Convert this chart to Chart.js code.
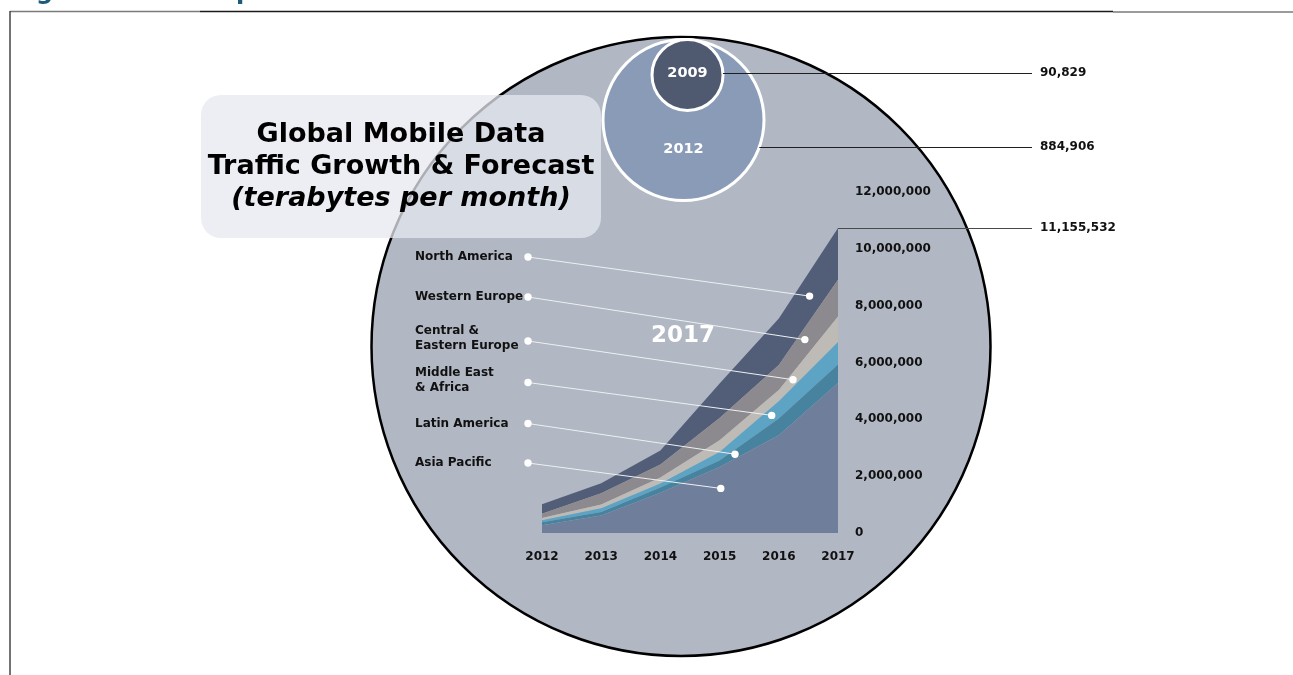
<!DOCTYPE html>
<html>
<head>
<meta charset="utf-8">
<title>Global Mobile Data Traffic Growth &amp; Forecast</title>
<script src="https://cdn.jsdelivr.net/npm/chart.js@4.4.1/dist/chart.umd.min.js"></script>
<style>
  html, body { margin: 0; padding: 0; background: #fff; }
  #wrap { position: relative; width: 1293px; height: 675px; overflow: hidden; }
</style>
</head>
<body>
<div id="wrap"><canvas id="chartTraffic" width="1293" height="675"></canvas></div>
<script>
/* ============================================================
   Global Mobile Data Traffic — stacked areas per region (TB/month)
   ============================================================ */

const years = ['2012', '2013', '2014', '2015', '2016', '2017'];

// stacked bottom -> top (TB per month)
const asiaPacific       = [270000, 620000, 1420000, 2320000, 3440000, 5280000];
const latinAmerica      = [110000, 120000,  180000,  230000,  590000,  650000];
const middleEastAfrica  = [ 70000, 130000,  140000,  300000,  610000,  790000];
const centralEastEurope = [ 80000, 130000,  210000,  410000,  390000,  900000];
const westernEurope     = [150000, 400000,  460000,  790000,  880000, 1290000];
const northAmerica      = [330000, 350000,  490000, 1210000, 1640000, 1820000];

const regionLabels = [
  ['Asia Pacific'],
  ['Latin America'],
  ['Middle East', '& Africa'],
  ['Central &', 'Eastern Europe'],
  ['Western Europe'],
  ['North America']
];
const regionColors = ['#6F7F9B', '#47839F', '#5DA3C3', '#BEBBB6', '#8C8A8F', '#525E77'];

const yTickMax = 12000000;
const yTickStep = 2000000;

// totals shown as bubbles
const totalYears  = ['2009', '2012', '2017'];
const totalValues = [90829, 884906, 11155532];

/* ---------- layout (pixels) ---------- */
const FONT = "'DejaVu Sans', 'Noto Sans', sans-serif";
const BIG_CIRCLE = { x: 681, y: 346.5, r: 309.5 };
const BUBBLE_2012 = { x: 683.5, y: 120, r: 80.5 };
const BUBBLE_2009 = { x: 687.5, y: 75, r: 35.5 };
const TITLE_BOX = { x: 201, y: 95, w: 400, h: 143, r: 20 };
const LEGEND_X = 415, DOT_X = 528;
const legendDotY = [463, 423.5, 382.5, 341, 297, 257];      // same order as datasets
const pointerAt = [3.02, 3.26, 3.88, 4.24, 4.44, 4.52];       // x position (category index)
const pointerFrac = [0.67, 0.5, 0.5, 0.5, 0.6, 0.5];          // height inside the band
const NOTE_LINE_END = 1032, NOTE_X = 1040;

const fmt = v => v.toLocaleString('en-US');

function roundRect(ctx, x, y, w, h, r) {
  ctx.beginPath();
  ctx.moveTo(x + r, y);
  ctx.arcTo(x + w, y, x + w, y + h, r);
  ctx.arcTo(x + w, y + h, x, y + h, r);
  ctx.arcTo(x, y + h, x, y, r);
  ctx.arcTo(x, y, x + w, y, r);
  ctx.closePath();
}

function disc(ctx, c, fill, stroke, lw) {
  ctx.beginPath();
  ctx.arc(c.x, c.y, c.r, 0, Math.PI * 2);
  ctx.fillStyle = fill;
  ctx.fill();
  ctx.lineWidth = lw;
  ctx.strokeStyle = stroke;
  ctx.stroke();
}

function noteLine(ctx, x0, y, label, color) {
  const yy = Math.round(y) + 0.5;
  ctx.beginPath();
  ctx.moveTo(x0, yy);
  ctx.lineTo(NOTE_LINE_END, yy);
  ctx.lineWidth = 1;
  ctx.strokeStyle = color || '#1e1e1e';
  ctx.stroke();
  ctx.fillStyle = '#111';
  ctx.font = 'bold 12px ' + FONT;
  ctx.textAlign = 'left';
  ctx.textBaseline = 'middle';
  ctx.fillText(label, NOTE_X, y);
}

// background: page frame, big 2017 circle, smaller bubbles, title box
const backdropPlugin = {
  id: 'backdrop',
  beforeDraw(chart) {
    const ctx = chart.ctx;
    ctx.save();
    ctx.fillStyle = '#fff';
    ctx.fillRect(0, 0, chart.width, chart.height);

    // cut-off heading from the page above
    ctx.fillStyle = '#1E5B7B';
    ctx.font = 'bold 24px ' + FONT;
    ctx.textBaseline = 'alphabetic';
    ctx.fillText('g', 36, -1);
    ctx.fillText('p', 236, -1);

    // frame
    ctx.lineWidth = 1.5;
    ctx.strokeStyle = '#7a7a7a';
    ctx.beginPath(); ctx.moveTo(10, 11.5); ctx.lineTo(200, 11.5); ctx.stroke();
    ctx.beginPath(); ctx.moveTo(1113, 12); ctx.lineTo(1293, 12); ctx.stroke();
    ctx.strokeStyle = '#1a1a1a';
    ctx.beginPath(); ctx.moveTo(200, 11.5); ctx.lineTo(1113, 11.5); ctx.stroke();
    ctx.strokeStyle = '#444';
    ctx.beginPath(); ctx.moveTo(10, 11); ctx.lineTo(10, 675); ctx.stroke();

    disc(ctx, BIG_CIRCLE, '#B1B7C3', '#000', 2.5);
    disc(ctx, BUBBLE_2012, '#8A9BB8', '#fff', 3);
    disc(ctx, BUBBLE_2009, '#4F5A71', '#fff', 3);

    ctx.fillStyle = '#fff';
    ctx.font = 'bold 14.5px ' + FONT;
    ctx.textAlign = 'center';
    ctx.textBaseline = 'middle';
    ctx.fillText(totalYears[0], BUBBLE_2009.x, 73);
    ctx.fillText(totalYears[1], BUBBLE_2012.x, 149);
    ctx.font = 'bold 23px ' + FONT;
    ctx.fillText(totalYears[2], 683, 336);

    // notes for 2009 / 2012
    const dy09 = 73 - BUBBLE_2009.y, dy12 = 147 - BUBBLE_2012.y;
    noteLine(ctx, BUBBLE_2009.x + Math.sqrt(BUBBLE_2009.r ** 2 - dy09 ** 2), 73, fmt(totalValues[0]));
    noteLine(ctx, BUBBLE_2012.x + Math.sqrt(BUBBLE_2012.r ** 2 - dy12 ** 2), 147, fmt(totalValues[1]));

    // title box (semi transparent, circle edge shows through)
    roundRect(ctx, TITLE_BOX.x, TITLE_BOX.y, TITLE_BOX.w, TITLE_BOX.h, TITLE_BOX.r);
    ctx.fillStyle = 'rgba(230,232,240,0.75)';
    ctx.fill();
    const cx = TITLE_BOX.x + TITLE_BOX.w / 2;
    ctx.fillStyle = '#000';
    ctx.textAlign = 'center';
    ctx.textBaseline = 'alphabetic';
    ctx.font = 'bold 27px ' + FONT;
    ctx.fillText('Global Mobile Data', cx, 142);
    ctx.fillText('Traffic Growth & Forecast', cx, 174);
    ctx.font = 'italic bold 27px ' + FONT;
    ctx.fillText('(terabytes per month)', cx, 206);
    ctx.restore();
  },

  // region legend with pointers into each band, and the 2017 total note
  afterDatasetsDraw(chart) {
    const ctx = chart.ctx;
    const xs = chart.scales.x, ys = chart.scales.y;
    const sets = chart.data.datasets;
    ctx.save();

    const top = chart.getDatasetMeta(sets.length - 1).data[years.length - 1];
    noteLine(ctx, top.x, top.y, fmt(totalValues[2]), '#4a4a4a');

    sets.forEach((ds, i) => {
      const at = pointerAt[i];
      const i0 = Math.floor(at), t = at - i0;
      const i1 = Math.min(i0 + 1, years.length - 1);
      let below = 0;
      for (let k = 0; k < i; k++) {
        below += sets[k].data[i0] * (1 - t) + sets[k].data[i1] * t;
      }
      const own = ds.data[i0] * (1 - t) + ds.data[i1] * t;
      const tx = xs.getPixelForValue(at);
      const ty = ys.getPixelForValue(below + own * pointerFrac[i]);
      const dy = legendDotY[i];

      ctx.beginPath();
      ctx.moveTo(DOT_X, dy);
      ctx.lineTo(tx, ty);
      ctx.lineWidth = 1;
      ctx.strokeStyle = '#EEF0F3';
      ctx.stroke();
      ctx.fillStyle = '#fff';
      [[DOT_X, dy], [tx, ty]].forEach(([px, py]) => {
        ctx.beginPath();
        ctx.arc(px, py, 3.7, 0, Math.PI * 2);
        ctx.fill();
      });

      const lines = regionLabels[i];
      ctx.fillStyle = '#111';
      ctx.font = 'bold 12px ' + FONT;
      ctx.textAlign = 'left';
      ctx.textBaseline = 'middle';
      if (lines.length === 1) {
        ctx.fillText(lines[0], LEGEND_X, dy);
      } else {
        ctx.fillText(lines[0], LEGEND_X, dy - 10);
        ctx.fillText(lines[1], LEGEND_X, dy + 5);
      }
    });
    ctx.restore();
  }
};

const seriesData = [asiaPacific, latinAmerica, middleEastAfrica, centralEastEurope, westernEurope, northAmerica];

new Chart(document.getElementById('chartTraffic'), {
  type: 'line',
  data: {
    labels: years,
    datasets: seriesData.map((d, i) => ({
      label: regionLabels[i].join(' '),
      data: d,
      fill: i === 0 ? 'origin' : '-1',
      backgroundColor: regionColors[i],
      borderWidth: 0,
      pointRadius: 0,
      tension: 0
    }))
  },
  options: {
    responsive: false,
    animation: false,
    devicePixelRatio: 1,
    layout: { padding: { left: 542, top: 192, right: 355, bottom: 82 } },
    plugins: { legend: { display: false }, tooltip: { enabled: false }, title: { display: false } },
    scales: {
      x: {
        offset: false,
        grid: { display: false },
        border: { display: false },
        ticks: { color: '#111', font: { family: FONT, size: 12, weight: 'bold' }, padding: 9, maxRotation: 0, autoSkip: false },
        afterFit: s => { s.height = 60; }
      },
      y: {
        position: 'right',
        stacked: true,
        min: 0,
        max: yTickMax,
        grid: { display: false },
        border: { display: false },
        ticks: {
          stepSize: yTickStep,
          color: '#111',
          font: { family: FONT, size: 12, weight: 'bold' },
          padding: 9,
          callback: v => fmt(v)
        },
        afterFit: s => { s.width = 100; }
      }
    }
  },
  plugins: [backdropPlugin]
});
</script>
</body>
</html>
